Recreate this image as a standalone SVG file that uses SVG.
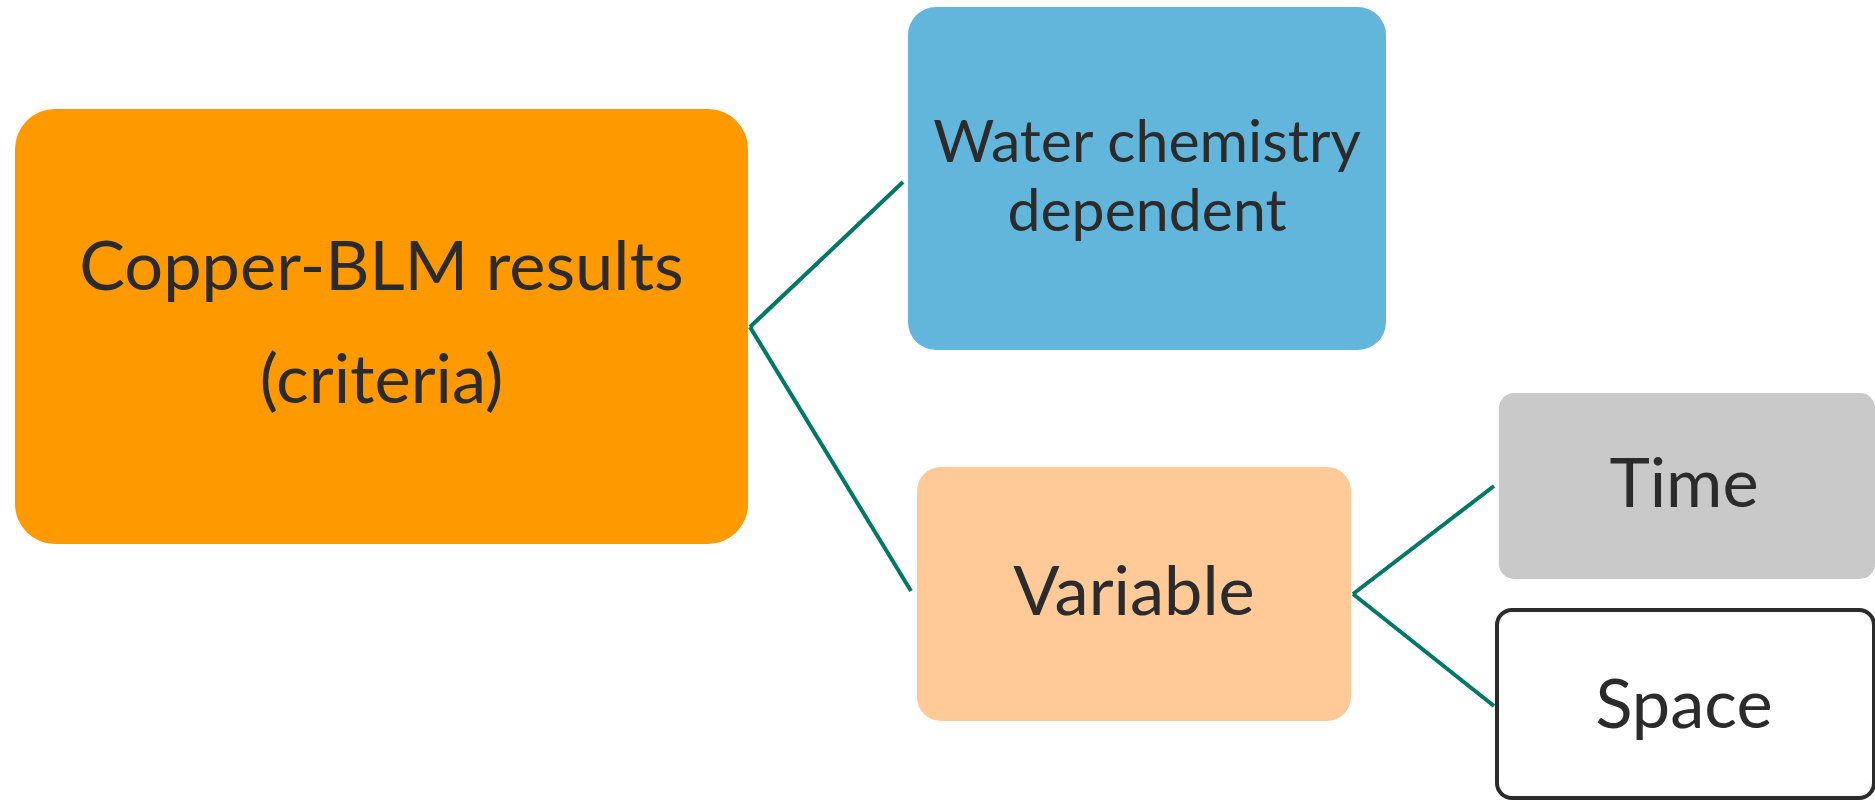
<svg xmlns="http://www.w3.org/2000/svg" width="1875" height="802" viewBox="0 0 1875 802">
  <style>
    .lbl { font-family: Lato, "Liberation Sans", sans-serif; fill: #2B2B2B; text-anchor: middle; }
    .big { font-size: 68.5px; }
    .mid { font-size: 59px; }
    .conn { stroke: #007866; stroke-width: 4; fill: none; }
  </style>
  <rect width="1875" height="802" fill="#FFFFFF"/>
  <g id="connectors">
    <line class="conn" x1="750" y1="327" x2="903" y2="182"/>
    <line class="conn" x1="750" y1="327" x2="911" y2="591"/>
    <line class="conn" x1="1353" y1="594" x2="1494" y2="486"/>
    <line class="conn" x1="1353" y1="594" x2="1494" y2="706"/>
  </g>
  <g id="node-copper">
    <rect x="15" y="109" width="733" height="435" rx="40" ry="40" fill="#FF9900"/>
    <text class="lbl big" x="381.5" y="290">Copper-BLM results</text>
    <text class="lbl big" x="381.5" y="403">(criteria)</text>
  </g>
  <g id="node-water">
    <rect x="908" y="7" width="478" height="343" rx="28" ry="28" fill="#63B6DB"/>
    <text class="lbl mid" x="1147" y="162">Water chemistry</text>
    <text class="lbl mid" x="1147" y="231">dependent</text>
  </g>
  <g id="node-variable">
    <rect x="917" y="467" width="434" height="254" rx="24" ry="24" fill="#FFCA97"/>
    <text class="lbl big" x="1134" y="615">Variable</text>
  </g>
  <g id="node-time">
    <rect x="1499" y="393" width="376" height="186" rx="15" ry="15" fill="#C9C9C9"/>
    <text class="lbl big" x="1684" y="507">Time</text>
  </g>
  <g id="node-space">
    <rect x="1497" y="610" width="377" height="188" rx="15" ry="15" fill="#FFFFFF" stroke="#2B2B2B" stroke-width="4"/>
    <text class="lbl big" x="1684" y="728">Space</text>
  </g>
</svg>
